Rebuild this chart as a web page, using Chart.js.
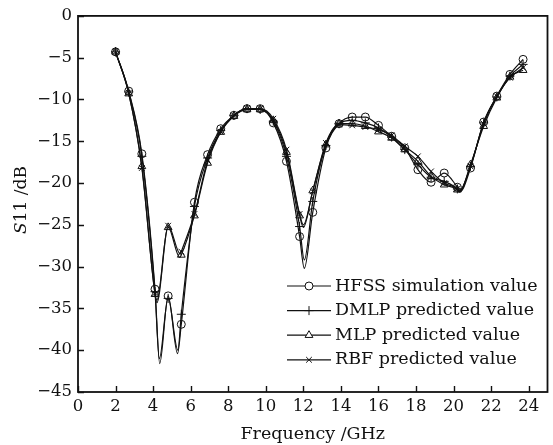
<!DOCTYPE html>
<html lang="en">
<head>
<meta charset="UTF-8">
<title>S11 vs Frequency</title>
<script src="https://cdn.jsdelivr.net/npm/chart.js"></script>
<style>
    html, body { margin: 0; padding: 0; background: #fff; }
    #wrap { width: 553px; height: 445px; position: relative; }
</style>
</head>
<body>
<div id="wrap"><canvas id="chart"></canvas></div>
<script>
// marker frequencies (GHz)
const freqs = [2.0, 2.7, 3.4, 4.1, 4.8, 5.5, 6.2, 6.9, 7.6, 8.3, 9.0, 9.7, 10.4, 11.1, 11.8, 12.5,
               13.2, 13.9, 14.6, 15.3, 16.0, 16.7, 17.4, 18.1, 18.8, 19.5, 20.2, 20.9, 21.6, 22.3, 23.0, 23.7];

// S11 (dB) at the markers
const hfss = [-4.3, -9.0, -16.5, -32.7, -33.5, -36.9, -22.3, -16.6, -13.5, -11.9, -11.1, -11.1, -12.8, -17.4, -26.4, -23.5,
              -15.8, -12.9, -12.1, -12.1, -13.1, -14.4, -15.8, -18.4, -19.9, -18.8, -20.5, -18.2, -12.7, -9.6, -7.0, -5.2];
const dmlp = [-4.3, -9.1, -16.8, -33.0, -33.8, -35.7, -22.8, -17.0, -13.7, -11.9, -11.1, -11.2, -12.6, -16.8, -25.2, -22.2,
              -15.5, -12.9, -12.5, -12.8, -13.4, -14.5, -16.0, -17.8, -19.3, -19.8, -20.7, -18.0, -12.8, -9.7, -7.2, -5.8];
const mlp  = [-4.3, -9.3, -18.0, -33.3, -25.3, -28.6, -23.9, -17.6, -13.9, -12.0, -11.2, -11.2, -12.5, -16.3, -23.9, -20.9,
              -15.4, -12.9, -12.9, -13.2, -13.85, -14.6, -16.0, -17.4, -19.2, -20.2, -20.8, -17.8, -13.2, -9.8, -7.3, -6.5];
const rbf  = [-4.3, -9.2, -18.2, -33.2, -25.1, -28.2, -23.7, -17.3, -13.85, -11.9, -11.1, -11.1, -12.3, -16.0, -23.7, -21.0,
              -15.2, -13.0, -13.1, -13.3, -13.6, -14.3, -15.6, -16.8, -18.6, -20.0, -20.7, -18.0, -12.9, -9.6, -7.4, -6.2];

// curve points between markers (dips), [GHz, dB]
const hfssLine = [[4.35, -41.6], [5.3, -40.4], [12.05, -30.2], [20.35, -21.0]];
const dmlpLine = [[4.33, -41.0], [5.32, -40.0], [12.05, -29.2], [20.3, -21.0]];
const mlpLine  = [[4.2, -34.3], [5.42, -28.9], [12.0, -25.3], [20.3, -21.1]];
const rbfLine  = [[4.2, -34.0], [5.45, -28.5], [12.0, -25.0], [20.3, -21.0]];

// axis ticks
const xTicks = [0, 2, 4, 6, 8, 10, 12, 14, 16, 18, 20, 22, 24];
const yTicks = [-45, -40, -35, -30, -25, -20, -15, -10, -5, 0];

const names = ['HFSS simulation value', 'DMLP predicted value', 'MLP predicted value', 'RBF predicted value'];
const styles = ['circle', 'cross', 'triangle', 'crossRot'];
const radii = [4, 4.5, 4.5, 4];

const serif = "'DejaVu Serif', serif";

function build(marks, extra) {
    const pts = marks.map((y, i) => ({ x: freqs[i], y: y, m: true }));
    extra.forEach(p => pts.push({ x: p[0], y: p[1], m: false }));
    return pts.sort((a, b) => a.x - b.x);
}

function series(i, marks, extra) {
    return {
        label: names[i],
        data: build(marks, extra),
        borderColor: '#111',
        borderWidth: 1.2,
        cubicInterpolationMode: 'monotone',
        pointStyle: styles[i],
        pointRadius: ctx => (ctx.raw && ctx.raw.m) ? radii[i] : 0,
        pointHoverRadius: 0,
        pointBorderColor: '#111',
        pointBackgroundColor: 'rgba(0,0,0,0)',
        pointBorderWidth: 1
    };
}

const extras = {
    id: 'extras',
    afterDraw(chart) {
        const ctx = chart.ctx;
        const a = chart.chartArea;
        const xs = chart.scales.x, ys = chart.scales.y;
        ctx.save();
        ctx.strokeStyle = '#111';
        // frame
        ctx.lineWidth = 1.8;
        ctx.strokeRect(a.left, a.top, a.right - a.left, a.bottom - a.top);
        // inward ticks
        ctx.lineWidth = 1.4;
        ctx.beginPath();
        xTicks.forEach(v => {
            const px = Math.round(xs.getPixelForValue(v)) + 0.5;
            ctx.moveTo(px, a.bottom);
            ctx.lineTo(px, a.bottom - 6);
        });
        yTicks.forEach(v => {
            const py = Math.round(ys.getPixelForValue(v)) + 0.5;
            ctx.moveTo(a.left, py);
            ctx.lineTo(a.left + 6, py);
        });
        ctx.stroke();

        // y title: S11 /dB with italic S
        ctx.translate(22, 200);
        ctx.rotate(-Math.PI / 2);
        ctx.fillStyle = '#111';
        ctx.textBaseline = 'middle';
        ctx.font = 'italic 17px ' + serif;
        const w1 = ctx.measureText('S').width;
        ctx.font = '17px ' + serif;
        const w2 = ctx.measureText('11 /dB').width;
        const sx = -(w1 + w2) / 2;
        ctx.font = 'italic 17px ' + serif;
        ctx.textAlign = 'left';
        ctx.fillText('S', sx, 0);
        ctx.font = '17px ' + serif;
        ctx.fillText('11 /dB', sx + w1, 0);
        ctx.restore();

        // legend
        ctx.save();
        ctx.strokeStyle = '#111';
        ctx.font = '17.5px ' + serif;
        ctx.textBaseline = 'middle';
        names.forEach((name, i) => {
            const y = 286 + i * 24.6;
            ctx.lineWidth = 1.2;
            ctx.beginPath();
            ctx.moveTo(287, y);
            ctx.lineTo(331, y);
            ctx.stroke();
            ctx.fillStyle = 'rgba(255,255,255,1)';
            ctx.lineWidth = 1;
            Chart.helpers.drawPoint(ctx, { pointStyle: styles[i], radius: radii[i], borderWidth: 1 }, 309, y);
            ctx.fillStyle = '#111';
            ctx.fillText(name, 335, y);
        });
        ctx.restore();
    }
};

new Chart(document.getElementById('chart'), {
    type: 'line',
    data: {
        datasets: [
            series(0, hfss, hfssLine),
            series(1, dmlp, dmlpLine),
            series(2, mlp, mlpLine),
            series(3, rbf, rbfLine)
        ]
    },
    options: {
        responsive: true,
        maintainAspectRatio: false,
        animation: false,
        layout: { padding: { top: 11, right: 3, left: 0, bottom: 0 } },
        plugins: {
            legend: { display: false },
            tooltip: { enabled: false }
        },
        scales: {
            x: {
                type: 'linear',
                min: 0,
                max: 25,
                grid: { display: false, drawTicks: false },
                border: { display: false },
                afterBuildTicks: s => { s.ticks = xTicks.map(v => ({ value: v })); },
                afterFit: s => { s.height = 53; },
                ticks: {
                    autoSkip: false,
                    maxRotation: 0,
                    padding: 5,
                    color: '#111',
                    font: { family: serif, size: 16.5 }
                },
                title: {
                    display: true,
                    text: 'Frequency /GHz',
                    color: '#111',
                    font: { family: serif, size: 17.5 },
                    padding: { top: 0, bottom: 0 }
                }
            },
            y: {
                min: -45,
                max: 0,
                grid: { display: false, drawTicks: false },
                border: { display: false },
                afterBuildTicks: s => { s.ticks = yTicks.map(v => ({ value: v })); },
                afterFit: s => { s.width = 78; },
                ticks: {
                    padding: 6,
                    color: '#111',
                    font: { family: serif, size: 16.5 },
                    callback: v => v === 0 ? '0' : '\u2212' + Math.abs(v)
                }
            }
        }
    },
    plugins: [extras]
});
</script>
</body>
</html>
